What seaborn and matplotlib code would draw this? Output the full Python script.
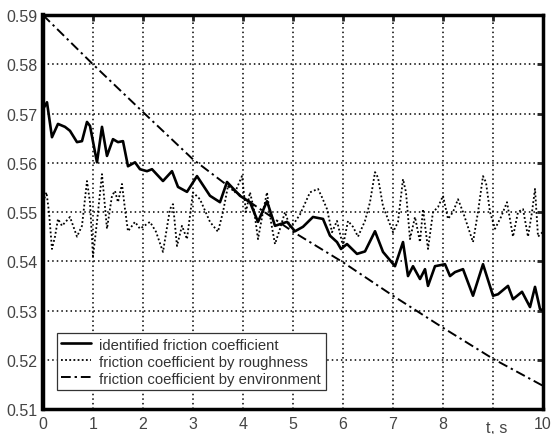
import numpy as np
import pandas as pd
import seaborn as sns
import matplotlib
matplotlib.use("Agg")
import matplotlib.pyplot as plt

# datos
t_ident = [0.00, 0.08, 0.18, 0.30, 0.44, 0.54, 0.68, 0.78, 0.88, 0.94,
           1.08, 1.18, 1.28, 1.40, 1.50, 1.60, 1.70, 1.84, 1.94, 2.08,
           2.18, 2.40, 2.58, 2.70, 2.88, 3.08, 3.34, 3.54, 3.68, 3.94,
           4.14, 4.30, 4.48, 4.64, 4.88, 5.04, 5.20, 5.40, 5.60, 5.74,
           5.88, 5.96, 6.08, 6.28, 6.44, 6.64, 6.80, 7.04, 7.20, 7.30,
           7.40, 7.54, 7.64, 7.70, 7.84, 8.04, 8.14, 8.24, 8.40, 8.60,
           8.80, 9.00, 9.10, 9.30, 9.40, 9.58, 9.74, 9.84, 9.94, 10.00]
mu_ident = [0.5709, 0.5723, 0.5652, 0.5679, 0.5673, 0.5665, 0.5642, 0.5644, 0.5683, 0.5675,
            0.5601, 0.5673, 0.5614, 0.5648, 0.5642, 0.5644, 0.5593, 0.5601, 0.5587, 0.5583,
            0.5587, 0.5563, 0.5583, 0.5551, 0.5541, 0.5573, 0.5533, 0.5520, 0.5561, 0.5533,
            0.5520, 0.5480, 0.5522, 0.5472, 0.5480, 0.5461, 0.5470, 0.5490, 0.5486, 0.5452,
            0.5439, 0.5425, 0.5435, 0.5415, 0.5420, 0.5461, 0.5419, 0.5390, 0.5439, 0.5370,
            0.5390, 0.5364, 0.5384, 0.5350, 0.5390, 0.5394, 0.5370, 0.5378, 0.5384, 0.5330,
            0.5394, 0.5330, 0.5333, 0.5350, 0.5323, 0.5338, 0.5307, 0.5348, 0.5303, 0.5300]

t_rough = [0.00, 0.07, 0.12, 0.18, 0.24, 0.30, 0.38, 0.54, 0.68, 0.78,
           0.88, 0.94, 1.00, 1.08, 1.18, 1.28, 1.38, 1.44, 1.50, 1.58,
           1.64, 1.70, 1.84, 1.94, 2.14, 2.26, 2.40, 2.54, 2.60, 2.68,
           2.78, 2.88, 3.00, 3.14, 3.34, 3.50, 3.60, 3.70, 3.84, 3.98,
           4.06, 4.14, 4.22, 4.30, 4.40, 4.48, 4.56, 4.64, 4.74, 4.84,
           4.94, 5.04, 5.14, 5.34, 5.50, 5.58, 5.68, 5.78, 5.88, 6.00,
           6.10, 6.20, 6.30, 6.44, 6.54, 6.64, 6.70, 6.80, 7.00, 7.10,
           7.20, 7.26, 7.34, 7.44, 7.54, 7.60, 7.70, 7.80, 7.90, 8.00,
           8.10, 8.20, 8.30, 8.40, 8.60, 8.70, 8.80, 8.86, 8.94, 9.04,
           9.16, 9.28, 9.40, 9.50, 9.60, 9.70, 9.78, 9.84, 9.90, 10.00]
mu_rough = [0.5520, 0.5540, 0.5500, 0.5425, 0.5450, 0.5486, 0.5472, 0.5490, 0.5450, 0.5472,
            0.5563, 0.5520, 0.5410, 0.5480, 0.5577, 0.5466, 0.5533, 0.5543, 0.5520, 0.5557,
            0.5506, 0.5461, 0.5480, 0.5466, 0.5480, 0.5460, 0.5419, 0.5506, 0.5516, 0.5431,
            0.5472, 0.5445, 0.5540, 0.5526, 0.5480, 0.5460, 0.5500, 0.5553, 0.5540, 0.5573,
            0.5500, 0.5540, 0.5505, 0.5445, 0.5500, 0.5540, 0.5480, 0.5435, 0.5466, 0.5500,
            0.5470, 0.5480, 0.5495, 0.5540, 0.5547, 0.5530, 0.5506, 0.5459, 0.5482, 0.5431,
            0.5482, 0.5470, 0.5450, 0.5482, 0.5520, 0.5581, 0.5570, 0.5512, 0.5459, 0.5480,
            0.5567, 0.5540, 0.5445, 0.5490, 0.5439, 0.5506, 0.5425, 0.5500, 0.5510, 0.5533,
            0.5486, 0.5500, 0.5526, 0.5500, 0.5439, 0.5500, 0.5573, 0.5560, 0.5500, 0.5466,
            0.5490, 0.5520, 0.5450, 0.5500, 0.5506, 0.5450, 0.5500, 0.5547, 0.5450, 0.5460]

t_env = [0, 1, 2, 3, 4, 5, 6, 7, 8, 9, 10]
mu_env = [0.5900, 0.5800, 0.5703, 0.5607, 0.5530, 0.5460, 0.5398, 0.5330, 0.5265, 0.5202, 0.5147]

etiquetas = ["identified friction coefficient",
             "friction coefficient by roughness",
             "friction coefficient by environment"]

# en el eje x el 9 no lleva numero, en su lugar va "t, s"
xticks = list(range(0, 11))
xtick_labels = ["0", "1", "2", "3", "4", "5", "6", "7", "8", "", "10"]
yticks = [0.51, 0.52, 0.53, 0.54, 0.55, 0.56, 0.57, 0.58, 0.59]

sns.set_style("white")
plt.rcParams['font.family'] = ['Liberation Sans', 'DejaVu Sans']

fig = plt.figure(figsize=(5.51, 4.35), dpi=100)
ax = fig.add_axes([0.078, 0.0575, 0.9075, 0.9055])

sns.lineplot(x=t_ident, y=mu_ident, ax=ax, color="black", linewidth=1.9,
             linestyle="-", label=etiquetas[0], estimator=None, sort=False)
sns.lineplot(x=t_rough, y=mu_rough, ax=ax, color="black", linewidth=1.3,
             linestyle=(0, (1, 1.3)), label=etiquetas[1], estimator=None, sort=False)
sns.lineplot(x=t_env, y=mu_env, ax=ax, color="black", linewidth=1.4,
             linestyle=(0, (5, 2, 1.2, 2)), label=etiquetas[2], estimator=None, sort=False)

ax.set_xlim(0, 10)
ax.set_ylim(0.51, 0.59)
ax.set_xticks(xticks)
ax.set_xticklabels(xtick_labels)
ax.set_yticks(yticks)
ax.set_yticklabels([f"{v:.2f}" for v in yticks])

ax.grid(True, color="black", linestyle=(0, (1, 2)), linewidth=1.1)
ax.tick_params(direction="in", top=True, right=True, length=4, width=2,
               labelsize=11.5, labelcolor="#444444")
ax.tick_params(axis="x", pad=5)
ax.tick_params(axis="y", pad=4)
for lado in ["left", "bottom", "right", "top"]:
    ax.spines[lado].set_visible(True)
    ax.spines[lado].set_color("black")
    ax.spines[lado].set_linewidth(2.5)
ax.spines["left"].set_linewidth(3.2)

ax.set_xlabel("")
ax.text(0.908, -0.028, "t, s", transform=ax.transAxes, fontsize=11.5,
        color="#444444", ha="center", va="top")

ley = ax.legend(loc="lower left", bbox_to_anchor=(0.028, 0.048), fontsize=10.7,
                frameon=True, fancybox=False, framealpha=1, edgecolor="#333333",
                handlelength=2.0, borderpad=0.3, labelspacing=0.2,
                handletextpad=0.55, borderaxespad=0)
ley.get_frame().set_linewidth(0.9)
for txt in ley.get_texts():
    txt.set_color("#333333")

fig.savefig("out.png", dpi=100)
